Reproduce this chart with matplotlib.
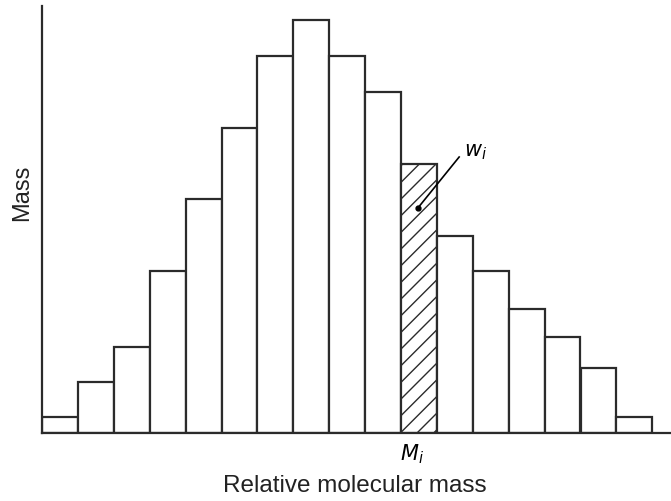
import matplotlib
matplotlib.use("Agg")
import matplotlib.pyplot as plt
import numpy as np

# bar heights (arbitrary mass units), 17 molecular-mass classes
heights = [16, 51, 86, 162, 234, 305, 377, 413, 377, 341, 269, 197, 162, 124, 96, 65, 16]
hatched_bar = 10  # the w_i slice at M_i
wi_point = (10.47, 225)
wi_label = (11.75, 272)
line_start = (11.62, 276)

plt.rcParams["font.family"] = ["Liberation Sans", "DejaVu Sans"]
edge = "#2b2b2b"
plt.rcParams["hatch.linewidth"] = 1.0
plt.rcParams["hatch.color"] = edge

fig = plt.figure(figsize=(6.71, 5.02), dpi=100)
ax = fig.add_axes([42 / 671, 68 / 502, 628 / 671, 427 / 502])

for i, h in enumerate(heights):
    ax.bar(i, h, width=1.0, align="edge", facecolor="white", edgecolor=edge,
           linewidth=1.6, hatch="//" if i == hatched_bar else None, zorder=2)

ax.set_xlim(0, 628 / 35.9)
ax.set_ylim(0, 427)
for s in ("top", "right"):
    ax.spines[s].set_visible(False)
for s in ("left", "bottom"):
    ax.spines[s].set_linewidth(1.6)
    ax.spines[s].set_color(edge)
ax.set_xticks([])
ax.set_yticks([])

ax.plot(*wi_point, "o", color="black", ms=3.5, zorder=4)
ax.plot([wi_point[0], line_start[0]], [wi_point[1], line_start[1]], color="black", lw=1.2, zorder=4)
ax.text(*wi_label, "$w_i$", fontsize=15, ha="left", va="bottom")
ax.text(hatched_bar + 0.3, -8, "$M_i$", fontsize=15, ha="center", va="top")

ax.set_xlabel("Relative molecular mass", fontsize=17.5, color="#222222")
ax.set_ylabel("Mass", fontsize=17, color="#222222")
ax.xaxis.set_label_coords(0.498, -0.095)
ax.yaxis.set_label_coords(-0.014, 0.564)

fig.savefig("out.png", dpi=100)
